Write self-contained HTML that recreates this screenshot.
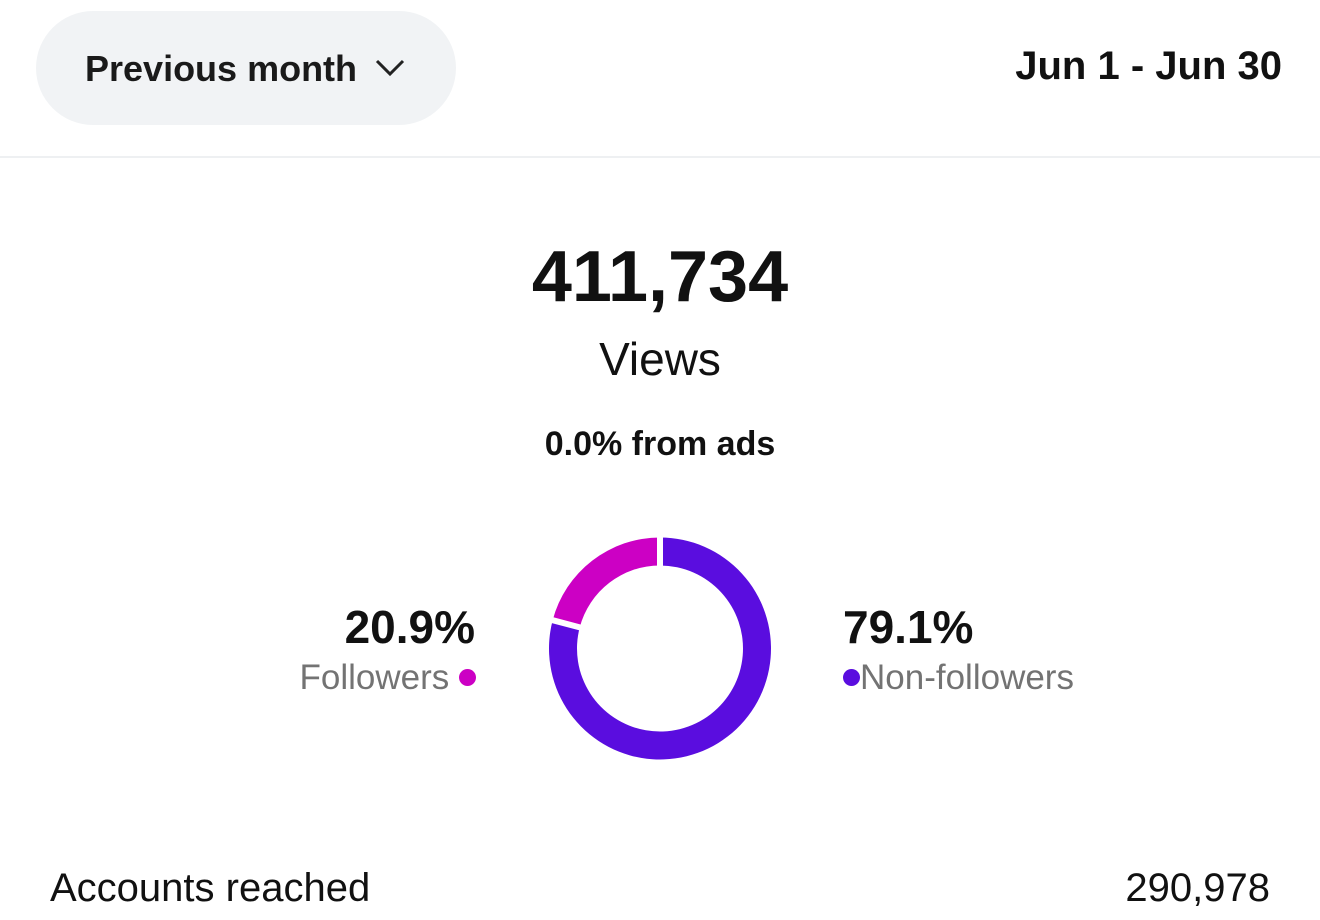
<!DOCTYPE html>
<html><head><meta charset="utf-8"><style>
body{margin:0;width:1320px;height:920px;background:#fff;font-family:"Liberation Sans",sans-serif;position:relative;overflow:hidden;color:#111}
.abs{position:absolute}
</style></head><body>
<div class="abs" style="left:36px;top:11px;width:420px;height:114px;border-radius:57px;background:#f1f3f5;"></div>
<div class="abs" style="left:85px;top:48px;font-size:36px;font-weight:bold;color:#1a1a1a">Previous month</div>
<svg class="abs" style="left:374px;top:56px" width="32" height="24"><polyline points="3,5 16,18 29,5" fill="none" stroke="#222" stroke-width="3"/></svg>
<div class="abs" style="right:38px;top:44px;font-size:40px;font-weight:bold">Jun 1 - Jun 30</div>
<div class="abs" style="left:0;top:156px;width:1320px;height:2px;background:#eef0f2"></div>
<div class="abs" style="left:0;width:1320px;top:236px;text-align:center;font-size:72px;font-weight:bold">411,734</div>
<div class="abs" style="left:0;width:1320px;top:332px;text-align:center;font-size:46px">Views</div>
<div class="abs" style="left:0;width:1320px;top:425px;text-align:center;font-size:34px;font-weight:bold">0.0% from ads</div>
<svg class="abs" id="donut" style="left:0;top:0" width="1320" height="920"></svg>
<div class="abs" style="right:845px;top:600px;font-size:46px;font-weight:bold">20.9%</div>
<div class="abs" style="right:844px;top:658px;font-size:35px;color:#737373">Followers <span style="display:inline-block;width:17px;height:17px;border-radius:50%;background:#cc00c4;vertical-align:3px"></span></div>
<div class="abs" style="left:843px;top:600px;font-size:46px;font-weight:bold">79.1%</div>
<div class="abs" style="left:843px;top:658px;font-size:35px;color:#737373"><span style="display:inline-block;width:17px;height:17px;border-radius:50%;background:#5a0ddf;vertical-align:3px"></span>Non-followers</div>
<div class="abs" style="left:50px;top:866px;font-size:40px">Accounts reached</div>
<div class="abs" style="right:50px;top:866px;font-size:40px">290,978</div>
<script>
const categories=["Followers","Non-followers"];
const shares=[20.9,79.1];
const colors=["#cc00c4","#5a0ddf"];
const svg=document.getElementById('donut');
const cx=660,cy=648.5,R=111,r=83,gap=3;
function pt(rad,frac){const a=frac*2*Math.PI-Math.PI/2;return [cx+rad*Math.cos(a),cy+rad*Math.sin(a)];}
const total=shares.reduce((a,b)=>a+b,0);
// followers run counter-clockwise from top
let start=1-shares[0]/total;
const segs=[[start,1],[0,start]];
segs.forEach((s,i)=>{
  const [a0,a1]=s;
  const p1=pt(R,a0),p2=pt(R,a1),p3=pt(r,a1),p4=pt(r,a0);
  const large=(a1-a0)>0.5?1:0;
  const p=document.createElementNS('http://www.w3.org/2000/svg','path');
  p.setAttribute('d',`M${p1}A${R},${R} 0 ${large} 1 ${p2}L${p3}A${r},${r} 0 ${large} 0 ${p4}Z`);
  p.setAttribute('fill',colors[i]);
  
  
  svg.appendChild(p);
});
[0,start].forEach(f=>{
  const a=pt(r-2,f),b=pt(R+2,f);
  const l=document.createElementNS('http://www.w3.org/2000/svg','line');
  l.setAttribute('x1',a[0]);l.setAttribute('y1',a[1]);l.setAttribute('x2',b[0]);l.setAttribute('y2',b[1]);
  l.setAttribute('stroke','#fff');l.setAttribute('stroke-width',gap*2);
  
  
  svg.appendChild(l);
});
</script>
</body></html>
